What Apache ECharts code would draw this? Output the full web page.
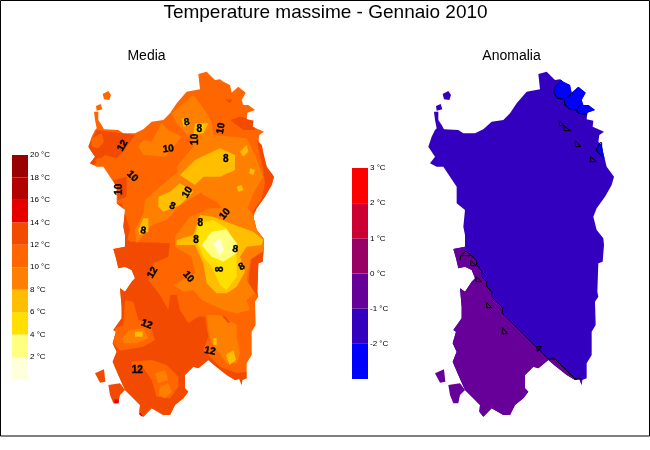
<!DOCTYPE html>
<html>
<head>
<meta charset="utf-8">
<style>
  html, body { margin: 0; padding: 0; background: #fff; }
  #map { width: 650px; height: 450px; }
</style>
<script src="https://cdn.jsdelivr.net/npm/echarts@6/dist/echarts.min.js"></script>
</head>
<body>
<div id="map"></div>
<script>
// scale classes
var mediaEdges = [0, 2, 4, 6, 8, 10, 12, 14, 16, 18, 20];
var mediaColors = ["#ffffd9", "#ffff80", "#ffe000", "#ffbf00", "#ff8000", "#ff6600", "#f24a00", "#e60000", "#b30000", "#990000"];
var anomEdges = [-3, -2, -1, 0, 1, 2, 3];
var anomColors = ["#0000ff", "#3300c0", "#660099", "#990066", "#cc0033", "#ff0000"];

// coast, in map grid units (x east, y south)
var coast = [[42,125],[55,125],[55,150],[65,165],[72,178],[115,180],[130,190],[165,190],[190,178],[215,155],[250,150],[270,130],[290,100],[320,65],[360,58],[355,12],[380,5],[395,20],[405,30],[420,28],[430,35],[450,45],[455,68],[475,50],[497,68],[485,90],[490,105],[505,105],[525,120],[502,128],[500,148],[520,152],[518,170],[535,178],[552,185],[538,195],[535,215],[545,225],[550,250],[560,290],[582,320],[575,345],[555,380],[530,415],[520,440],[530,480],[550,505],[552,525],[548,575],[535,580],[532,665],[535,680],[525,695],[527,765],[515,785],[515,855],[500,880],[500,925],[487,930],[485,945],[478,927],[465,930],[440,915],[405,887],[385,870],[355,895],[340,890],[315,915],[315,955],[325,965],[310,985],[285,1005],[270,1035],[250,1035],[215,1015],[190,1040],[178,1025],[180,1005],[160,985],[135,960],[115,915],[98,875],[110,845],[98,820],[108,785],[100,780],[125,745],[125,710],[120,655],[135,665],[155,635],[165,625],[155,600],[135,590],[115,595],[108,565],[100,537],[135,530],[135,495],[130,470],[135,420],[110,400],[110,350],[90,320],[70,290],[50,290],[30,280],[45,260],[25,230],[35,200],[45,180],[50,175],[45,150]];
var asinara = [[68,72],[85,63],[93,75],[88,90],[72,88]];
var asinaraSud = [[48,108],[62,102],[67,118],[50,122]];
var sanPietro = [[45,910],[72,898],[76,935],[60,938]];
var santAntioco = [[85,945],[120,940],[135,960],[120,975],[115,1000],[100,1000],[90,975]];
var redSpots = [[[103,988],[116,988],[116,1000],[103,1000]], [[176,1028],[190,1026],[188,1040],[180,1036]]];

// media: class index and outline, painted in order over the 10-12 class
var mediaAreas = [
  [6, [[25,230],[50,180],[165,195],[130,245],[110,265],[75,255],[30,295],[20,270]]],
  [5, [[35,205],[65,190],[72,215],[55,235],[35,230]]],
  [5, [[45,270],[60,262],[70,275],[55,285]]],
  [6, [[435,88],[458,88],[450,100]]],
  [6, [[450,150],[480,140],[525,150],[525,180],[490,180]]],
  [6, [[530,210],[560,220],[575,290],[600,320],[600,370],[550,400],[520,430],[535,480],[570,530],[555,600],[545,680],[525,670],[505,640],[515,560],[525,530],[530,490],[515,430],[545,385],[555,340],[550,300]]],
  [6, [[100,330],[140,320],[140,380],[115,390]]],
  [6, [[100,400],[125,400],[150,480],[135,530],[100,530]]],
  [6, [[60,540],[130,495],[150,515],[270,520],[265,560],[220,580],[205,630],[240,675],[265,720],[270,675],[290,675],[300,720],[325,760],[355,740],[375,740],[385,800],[370,840],[420,890],[470,910],[500,905],[500,1000],[300,1100],[0,1100],[0,700]]],
  [5, [[135,690],[160,695],[175,750],[210,760],[225,810],[190,830],[120,842],[100,820],[105,775],[130,765]]],
  [4, [[125,805],[150,780],[190,775],[205,805],[170,820],[130,820]]],
  [3, [[165,785],[188,785],[188,800],[165,800]]],
  [5, [[155,875],[215,870],[260,885],[295,920],[295,950],[270,985],[230,980],[215,930],[190,895],[155,895]]],
  [4, [[225,910],[255,900],[265,930],[235,940]]],
  [4, [[240,950],[265,940],[275,965],[255,985],[235,975]]],
  [4, [[380,735],[420,735],[470,765],[470,800],[480,850],[470,880],[440,880],[395,820],[385,780]]],
  [3, [[400,805],[410,805],[410,825],[400,825]]],
  [3, [[438,855],[460,840],[468,870],[448,885]]],
  [6, [[430,735],[450,755],[445,760],[428,740]]],
  // interior north
  [4, [[175,230],[190,210],[215,215],[245,160],[265,180],[305,200],[255,260],[190,255]]],
  [4, [[275,130],[340,75],[370,115],[395,155],[400,195],[500,205],[525,255],[550,320],[520,370],[505,410],[440,430],[410,395],[370,375],[345,350],[300,330],[290,290],[340,230],[330,205],[290,160]]],
  [4, [[300,300],[235,355],[195,390],[190,430],[165,480],[170,520],[215,465],[260,450],[300,405],[360,370],[370,350]]],
  [4, [[330,440],[390,415],[500,410],[550,470],[555,540],[510,570],[500,630],[525,670],[500,690],[510,720],[470,730],[430,720],[365,690],[340,660],[310,665],[280,645],[345,610],[335,560],[285,530],[285,500]]],
  [3, [[305,145],[325,145],[330,165],[310,170]]],
  [2, [[312,150],[322,150],[324,162],[314,164]]],
  [3, [[345,160],[385,160],[370,190],[340,195]]],
  [2, [[352,165],[370,165],[362,182],[350,182]]],
  // central ridge
  [3, [[345,270],[420,235],[465,255],[465,300],[420,320],[370,320],[345,345],[300,315],[340,275]]],
  [3, [[235,380],[270,365],[300,340],[340,365],[300,405],[250,425],[235,410]]],
  [3, [[175,480],[190,445],[205,445],[205,485],[180,495]]],
  [3, [[480,245],[500,225],[505,245],[490,260]]],
  [3, [[470,350],[485,345],[490,360],[475,365]]],
  [3, [[510,295],[525,300],[520,315],[508,310]]],
  [3, [[290,510],[340,495],[360,435],[400,440],[450,460],[520,485],[550,510],[545,525],[500,530],[480,560],[495,605],[470,650],[440,670],[410,670],[380,640],[370,580],[345,525],[290,525]]],
  [2, [[345,500],[355,460],[400,450],[440,475],[465,520],[470,570],[470,620],[440,660],[420,645],[395,590],[370,560]]],
  [1, [[365,525],[395,485],[440,478],[470,520],[470,550],[430,575],[395,560]]],
  [0, [[398,520],[420,505],[432,540],[418,555]]]
];

// anomalia
var anomAreas = [
  [0, [[402,55],[415,40],[425,20],[445,20],[530,50],[540,130],[500,135],[470,130],[468,118],[450,118],[435,105],[433,88],[412,85],[402,70]]],
  [0, [[528,240],[540,218],[560,218],[560,270],[545,260]]],
  [2, [[0,525],[135,525],[138,543],[155,557],[170,573],[170,585],[185,603],[185,620],[200,635],[200,650],[215,665],[215,680],[247,712],[247,730],[345,827],[385,867],[405,867],[465,927],[485,927],[485,1100],[0,1100]]]
];
var anomLines = [
  [[425,32],[415,40],[402,55],[402,70],[412,85],[432,88],[435,105],[450,118],[470,120],[480,105]],
  [[433,88],[458,68]],
  [[470,120],[475,130],[500,133]],
  [[528,240],[540,218],[545,218],[545,260],[528,240]],
  [[120,570],[122,557],[155,557],[138,543],[122,557]],
  [[155,557],[170,573],[170,585],[185,603],[185,620],[200,635],[200,650],[215,665],[215,680],[247,712],[247,730],[345,827],[385,867],[405,867],[465,927],[485,927]],
  [[418,152],[433,167],[418,167],[418,152]],
  [[432,168],[452,182],[432,182],[432,168]],
  [[466,212],[482,230],[466,230],[466,212]],
  [[511,260],[530,275],[511,275],[511,260]],
  [[152,571],[168,587],[152,587],[152,571]],
  [[168,620],[185,635],[168,635],[168,620]],
  [[200,698],[215,713],[200,713],[200,698]],
  [[247,773],[263,791],[247,791],[247,773]],
  [[350,830],[365,830],[352,845],[350,830]]
];

// contour labels on the media map
var isoText = ["8", "8", "10", "10", "12", "10", "8", "10", "10", "10", "8", "10", "8", "8", "8", "8", "12", "10", "8", "8", "12", "12", "12"];
var isoX = [320, 358, 345, 423, 128, 265, 437, 157, 117, 322, 277, 435, 190, 361, 348, 466, 218, 325, 420, 485, 200, 390, 172];
var isoY = [157, 178, 208, 175, 227, 237, 268, 319, 358, 367, 408, 432, 482, 460, 512, 538, 608, 620, 598, 590, 763, 843, 902];
var isoRot = [10, 0, 90, 80, 60, 5, 0, -45, 90, 60, -20, 50, -10, 0, 0, -10, 60, -50, 90, 30, -20, -10, 0];

var myChart = echarts.init(document.getElementById("map"));

function polyItem(api, pts, color, clip) {
  function toPx(p) { return api.coord(p); }
  var el = {
    type: "polygon",
    shape: { points: pts.map(toPx) },
    style: { fill: color }
  };
  if (clip) el.clipPath = { type: "polygon", shape: { points: coast.map(toPx) } };
  return el;
}

function mapSeries(idx, baseColor, areas, colors, islandFills) {
  // coast first, then islands, then class areas cut to the coast
  var items = [{ pts: coast, color: baseColor }];
  islandFills.forEach(function (d) { items.push({ pts: d[0], color: d[1] }); });
  areas.forEach(function (a) { items.push({ pts: a[1], color: colors[a[0]], clip: true }); });
  return {
    type: "custom",
    xAxisIndex: idx,
    yAxisIndex: idx,
    silent: true,
    clip: false,
    data: items.map(function (d, i) { return [i]; }),
    renderItem: function (params, api) {
      var it = items[params.dataIndex];
      return polyItem(api, it.pts, it.color, it.clip);
    }
  };
}

function scaleSeries(idx, edges, colors) {
  return {
    type: "custom",
    xAxisIndex: idx,
    yAxisIndex: idx,
    silent: true,
    data: colors.map(function (c, i) { return [edges[i], edges[i + 1]]; }),
    renderItem: function (params, api) {
      var a = api.coord([0, api.value(1)]);
      var b = api.coord([1, api.value(0)]);
      return {
        type: "rect",
        shape: { x: a[0], y: a[1], width: b[0] - a[0], height: b[1] - a[1] },
        style: { fill: colors[params.dataIndex] }
      };
    }
  };
}

function scaleAxis(idx, edges, step) {
  return {
    gridIndex: idx,
    type: "value",
    position: "right",
    min: edges[0],
    max: edges[edges.length - 1],
    interval: step,
    splitLine: { show: false },
    axisLine: { show: false },
    axisTick: { show: false },
    axisLabel: { showMinLabel: false, margin: 2, fontSize: 8, color: "#000", fontFamily: "Liberation Sans", formatter: "{value} °C" }
  };
}

var hiddenX = function (idx, lo, hi) { return { gridIndex: idx, type: "value", min: lo, max: hi, show: false }; };
var hiddenY = function (idx, lo, hi) { return { gridIndex: idx, type: "value", min: lo, max: hi, show: false, inverse: true }; };

var option = {
  backgroundColor: "#fff",
  animation: false,
  title: [
    { text: "Temperature massime - Gennaio 2010", left: 325.5, top: 3, padding: 0, textAlign: "center", textStyle: { fontSize: 19, fontWeight: "normal", color: "#000", fontFamily: "Liberation Sans" } },
    { text: "Media", left: 146.5, top: 49, padding: 0, textAlign: "center", textStyle: { fontSize: 14, fontWeight: "normal", color: "#000", fontFamily: "Liberation Sans" } },
    { text: "Anomalia", left: 511.5, top: 49, padding: 0, textAlign: "center", textStyle: { fontSize: 14, fontWeight: "normal", color: "#000", fontFamily: "Liberation Sans" } }
  ],
  grid: [
    { left: 12, top: 155, width: 16, height: 224.5 },
    { left: 352, top: 168, width: 16, height: 211 },
    { left: 80, top: 70, width: 200, height: 350 },
    { left: 420, top: 70, width: 200, height: 350 }
  ],
  xAxis: [hiddenX(0, 0, 1), hiddenX(1, 0, 1), hiddenX(2, 0, 600), hiddenX(3, 0, 600)],
  yAxis: [scaleAxis(0, mediaEdges, 2), scaleAxis(1, anomEdges, 1), hiddenY(2, 0, 1050), hiddenY(3, 0, 1050)],
  graphic: [{
    type: "rect",
    silent: true,
    shape: { x: 0.5, y: 0.5, width: 649, height: 435.5 },
    style: { fill: "none", stroke: "#000", lineWidth: 1 }
  }],
  series: [
    scaleSeries(0, mediaEdges, mediaColors),
    scaleSeries(1, anomEdges, anomColors),
    mapSeries(2, mediaColors[5], mediaAreas, mediaColors, [[asinara, mediaColors[5]], [asinaraSud, mediaColors[5]], [sanPietro, mediaColors[6]], [santAntioco, mediaColors[6]], [redSpots[0], mediaColors[7]], [redSpots[1], mediaColors[7]]]),
    mapSeries(3, anomColors[1], anomAreas, anomColors, [[asinara, anomColors[1]], [asinaraSud, anomColors[1]], [sanPietro, anomColors[2]], [santAntioco, anomColors[2]]]),
    {
      type: "custom",
      xAxisIndex: 2,
      yAxisIndex: 2,
      silent: true,
      clip: false,
      z: 5,
      data: isoText.map(function (t, i) { return [isoX[i], isoY[i]]; }),
      renderItem: function (params, api) {
        var p = api.coord([api.value(0), api.value(1)]);
        return {
          type: "text",
          x: p[0],
          y: p[1],
          rotation: isoRot[params.dataIndex] * Math.PI / 180,
          style: { text: isoText[params.dataIndex], fill: "#000", stroke: "#000", lineWidth: 0.4, font: "bold 10px Liberation Sans", align: "center", verticalAlign: "middle" }
        };
      }
    },
    {
      type: "custom",
      xAxisIndex: 3,
      yAxisIndex: 3,
      silent: true,
      clip: false,
      z: 5,
      data: anomLines.map(function (l, i) { return [i]; }),
      renderItem: function (params, api) {
        return {
          type: "polyline",
          shape: { points: anomLines[params.dataIndex].map(function (p) { return api.coord(p); }) },
          style: { fill: "none", stroke: "#000", lineWidth: 1 }
        };
      }
    }
  ]
};

myChart.setOption(option);
window.addEventListener("resize", function () {
  myChart.resize();
});
</script>
</body>
</html>
